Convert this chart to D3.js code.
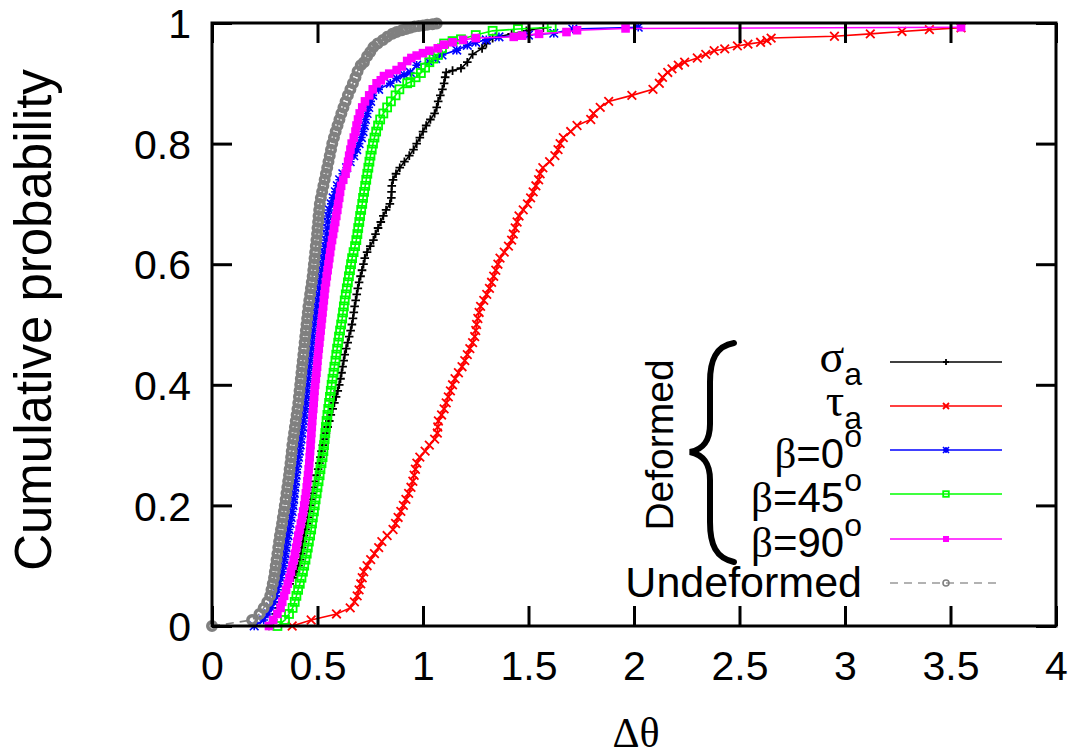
<!DOCTYPE html>
<html><head><meta charset="utf-8">
<script src="https://cdn.jsdelivr.net/npm/d3@7/dist/d3.min.js"></script>
<style>
html,body{margin:0;padding:0;background:#fff;}
svg{display:block;}
</style></head>
<body>
<svg id="chart" width="1077" height="753"></svg>
<script>
// ---------------- data ----------------
const xTicks = [0, 0.5, 1, 1.5, 2, 2.5, 3, 3.5, 4];
const yTicks = [0, 0.2, 0.4, 0.6, 0.8, 1];

// cumulative-probability levels at which the curves were read
const levels = [0.00,0.01,0.02,0.03,0.04,0.05,0.06,0.07,0.08,0.09,
0.10,0.11,0.12,0.13,0.14,0.15,0.16,0.17,0.18,0.19,
0.20,0.21,0.22,0.23,0.24,0.25,0.26,0.27,0.28,0.29,
0.30,0.31,0.32,0.33,0.34,0.35,0.36,0.37,0.38,0.39,
0.40,0.41,0.42,0.43,0.44,0.45,0.46,0.47,0.48,0.49,
0.50,0.51,0.52,0.53,0.54,0.55,0.56,0.57,0.58,0.59,
0.60,0.61,0.62,0.63,0.64,0.65,0.66,0.67,0.68,0.69,
0.70,0.71,0.72,0.73,0.74,0.75,0.76,0.77,0.78,0.79,
0.80,0.81,0.82,0.83,0.84,0.85,0.86,0.87,0.88,0.89,0.90];

// sigma_a (black)
const sigmaBody = [0.27,0.29,0.305,0.315,0.325,0.335,0.35,0.368,0.385,0.398,
0.41,0.418,0.423,0.427,0.431,0.436,0.443,0.450,0.455,0.460,
0.465,0.470,0.476,0.482,0.488,0.495,0.503,0.509,0.514,0.519,
0.525,0.532,0.540,0.548,0.556,0.563,0.572,0.580,0.588,0.596,
0.603,0.609,0.614,0.619,0.624,0.629,0.636,0.643,0.650,0.657,
0.663,0.668,0.672,0.676,0.681,0.686,0.691,0.697,0.704,0.711,
0.718,0.724,0.735,0.750,0.765,0.775,0.787,0.800,0.812,0.825,
0.843,0.850,0.851,0.852,0.858,0.872,0.890,0.912,0.935,0.955,
0.970,0.985,1.000,1.015,1.035,1.055,1.065,1.072,1.082,1.092,1.100];
const sigmaTail = [[1.105,0.91],[1.11,0.918],[1.14,0.921],[1.18,0.925],[1.21,0.935],[1.235,0.948],
[1.28,0.958],[1.30,0.966],[1.33,0.975],[1.42,0.982],[1.49,0.987],[1.57,0.992]];

// tau_a (red)
const tauBody = [0.38,0.47,0.59,0.655,0.675,0.688,0.697,0.705,0.712,0.719,
0.735,0.752,0.77,0.79,0.805,0.83,0.858,0.870,0.882,0.895,
0.907,0.919,0.932,0.943,0.952,0.958,0.964,0.971,0.985,1.010,
1.030,1.055,1.068,1.070,1.073,1.088,1.100,1.110,1.120,1.130,
1.140,1.152,1.168,1.185,1.198,1.210,1.222,1.235,1.245,1.250,
1.254,1.260,1.266,1.273,1.288,1.302,1.315,1.325,1.335,1.345,
1.355,1.365,1.385,1.405,1.420,1.428,1.437,1.446,1.455,1.475,
1.495,1.510,1.522,1.535,1.548,1.555,1.568,1.600,1.625,1.640,
1.650,1.665,1.700,1.730,1.795,1.808,1.840,1.880,1.990,2.090,2.120];
const tauTail = [[2.135,0.91],[2.16,0.918],[2.18,0.924],[2.21,0.93],[2.24,0.935],[2.30,0.942],
[2.34,0.948],[2.38,0.954],[2.43,0.957],[2.49,0.962],[2.54,0.965],[2.60,0.968],[2.63,0.971],
[2.65,0.975],[2.95,0.978],[3.12,0.982],[3.27,0.986],[3.40,0.989],[3.55,0.992]];

// beta = 0 deg (blue)
const beta0Body = [0.20,0.245,0.265,0.28,0.292,0.302,0.31,0.318,0.326,0.334,
0.339,0.343,0.347,0.351,0.355,0.360,0.365,0.370,0.375,0.380,
0.384,0.387,0.390,0.393,0.396,0.399,0.402,0.406,0.410,0.414,
0.418,0.422,0.426,0.430,0.434,0.438,0.442,0.445,0.448,0.451,
0.454,0.457,0.460,0.463,0.466,0.469,0.472,0.475,0.478,0.481,
0.485,0.489,0.493,0.497,0.501,0.505,0.508,0.511,0.515,0.519,
0.523,0.527,0.532,0.537,0.542,0.545,0.547,0.549,0.551,0.556,
0.565,0.574,0.585,0.594,0.605,0.62,0.638,0.655,0.672,0.686,
0.697,0.708,0.716,0.722,0.727,0.735,0.743,0.752,0.762,0.790,0.845];
const beta0Tail = [[0.875,0.908],[0.91,0.914],[0.94,0.918],[0.97,0.93],[1.03,0.935],[1.06,0.941],
[1.09,0.947],[1.16,0.955],[1.21,0.963],[1.25,0.968],[1.30,0.972],[1.36,0.977],[1.50,0.98],
[1.62,0.983],[1.71,0.99],[2.02,0.993]];

// beta = 45 deg (green)
const beta45Body = [0.31,0.346,0.365,0.382,0.392,0.40,0.408,0.416,0.424,0.431,
0.437,0.443,0.449,0.454,0.459,0.465,0.470,0.474,0.478,0.483,
0.487,0.491,0.496,0.500,0.505,0.510,0.514,0.519,0.524,0.528,
0.531,0.534,0.537,0.540,0.543,0.547,0.551,0.555,0.559,0.563,
0.567,0.571,0.576,0.580,0.585,0.589,0.593,0.598,0.602,0.607,
0.612,0.617,0.621,0.625,0.629,0.634,0.639,0.644,0.649,0.654,
0.659,0.664,0.671,0.678,0.684,0.689,0.693,0.698,0.702,0.707,
0.712,0.716,0.721,0.726,0.731,0.736,0.741,0.746,0.751,0.757,
0.763,0.770,0.778,0.787,0.797,0.812,0.830,0.848,0.870,0.888,0.925];
const beta45Tail = [[0.94,0.902],[0.965,0.91],[0.99,0.917],[1.01,0.926],[1.03,0.935],[1.05,0.941],
[1.07,0.947],[1.09,0.958],[1.10,0.966],[1.14,0.97],[1.18,0.973],[1.25,0.98],[1.33,0.987],
[1.45,0.99],[1.61,0.993]];

// beta = 90 deg (magenta)
const beta90Body = [0.27,0.29,0.31,0.325,0.333,0.342,0.351,0.359,0.367,0.374,
0.381,0.387,0.393,0.399,0.404,0.409,0.415,0.421,0.427,0.432,
0.437,0.441,0.445,0.449,0.452,0.455,0.458,0.461,0.463,0.465,
0.467,0.469,0.471,0.473,0.475,0.477,0.480,0.482,0.484,0.486,
0.489,0.492,0.495,0.498,0.500,0.503,0.506,0.509,0.512,0.515,
0.518,0.521,0.524,0.527,0.530,0.533,0.536,0.540,0.544,0.548,
0.552,0.556,0.560,0.564,0.569,0.574,0.579,0.584,0.589,0.594,
0.598,0.603,0.607,0.612,0.622,0.633,0.640,0.645,0.650,0.656,
0.662,0.672,0.680,0.685,0.692,0.700,0.712,0.725,0.745,0.762,0.780];
const beta90Tail = [[0.80,0.905],[0.815,0.912],[0.84,0.916],[0.875,0.922],[0.90,0.928],[0.925,0.937],
[0.945,0.942],[0.97,0.946],[1.0,0.95],[1.03,0.954],[1.07,0.958],[1.10,0.964],[1.14,0.968],
[1.19,0.972],[1.25,0.975],[1.43,0.977],[1.47,0.979],[1.55,0.982],[1.68,0.985],[1.73,0.988],
[1.96,0.991],[3.55,0.993]];

// undeformed (gray)
const undefBody = [0.0,0.19,0.225,0.245,0.262,0.276,0.282,0.288,0.294,0.298,
0.302,0.306,0.310,0.314,0.318,0.322,0.327,0.332,0.336,0.341,
0.345,0.349,0.353,0.357,0.361,0.365,0.368,0.372,0.375,0.378,
0.381,0.385,0.389,0.393,0.397,0.401,0.405,0.409,0.412,0.415,
0.418,0.421,0.424,0.427,0.430,0.433,0.436,0.439,0.442,0.445,
0.448,0.451,0.454,0.457,0.461,0.465,0.469,0.473,0.477,0.480,
0.483,0.486,0.489,0.492,0.495,0.498,0.500,0.503,0.505,0.508,
0.511,0.516,0.522,0.528,0.534,0.540,0.546,0.552,0.558,0.564,
0.570,0.578,0.586,0.595,0.604,0.613,0.623,0.633,0.644,0.656,0.668];
const undefTail = [[0.68,0.91],[0.69,0.92],[0.705,0.93],[0.72,0.935],[0.735,0.945],[0.75,0.952],
[0.765,0.96],[0.785,0.966],[0.81,0.972],[0.83,0.977],[0.855,0.982],[0.875,0.985],[0.9,0.988],
[0.92,0.99],[0.94,0.992],[0.96,0.994],[0.98,0.995],[1.0,0.996],[1.02,0.997],[1.045,0.998],[1.065,0.999]];

// ---------------- drawing ----------------
const svg = d3.select("#chart");
const m = {left: 212, right: 1056, top: 23, bottom: 626};
const x = d3.scaleLinear().domain([0, 4]).range([m.left, m.right]);
const y = d3.scaleLinear().domain([0, 1]).range([m.bottom, m.top]);

const SANS = "'Liberation Sans', Arial, Helvetica, sans-serif";
const SERIF = "'Liberation Serif', 'Times New Roman', serif";

function pts(body, tail) { return levels.map((p, i) => [body[i], p]).concat(tail); }

const series = [
  {key: "sigma", color: "#000000", sym: "plus",   data: pts(sigmaBody, sigmaTail)},
  {key: "tau",   color: "#ff0000", sym: "cross",  data: pts(tauBody, tauTail)},
  {key: "b0",    color: "#0000ff", sym: "star",   data: pts(beta0Body, beta0Tail)},
  {key: "b45",   color: "#00ff00", sym: "osq",    data: pts(beta45Body, beta45Tail)},
  {key: "b90",   color: "#ff00ff", sym: "fsq",    data: pts(beta90Body, beta90Tail)},
  {key: "undef", color: "#808080", sym: "ocirc",  data: pts(undefBody, undefTail), dash: "8,6"}
];

function drawSymbol(g, sym, color, k) {
  const s = 4.3 * k;
  if (sym === "plus") {
    g.append("path").attr("d", `M${-s},0H${s}M0,${-s}V${s}`).attr("stroke", color).attr("stroke-width", 1.8).attr("fill", "none");
  } else if (sym === "cross") {
    g.append("path").attr("d", `M${-s},${-s}L${s},${s}M${-s},${s}L${s},${-s}`).attr("stroke", color).attr("stroke-width", 1.8).attr("fill", "none");
  } else if (sym === "star") {
    g.append("path").attr("d", `M${-s},0H${s}M0,${-s}V${s}M${-s},${-s}L${s},${s}M${-s},${s}L${s},${-s}`).attr("stroke", color).attr("stroke-width", 1.6).attr("fill", "none");
  } else if (sym === "osq") {
    const h = 4 * k;
    g.append("rect").attr("x", -h).attr("y", -h).attr("width", 2 * h).attr("height", 2 * h).attr("stroke", color).attr("stroke-width", 1.8).attr("fill", "none");
  } else if (sym === "fsq") {
    const h = 4.3 * k;
    g.append("rect").attr("x", -h).attr("y", -h).attr("width", 2 * h).attr("height", 2 * h).attr("fill", color);
  } else if (sym === "ocirc") {
    g.append("circle").attr("r", (k < 1 ? 3 : 4.2)).attr("stroke", color).attr("stroke-width", k < 1 ? 1.6 : 3.6).attr("fill", "none");
  }
}

const line = d3.line().x(d => x(d[0])).y(d => y(d[1]));
const plot = svg.append("g");
series.forEach(s => {
  plot.append("path").datum(s.data).attr("d", line)
    .attr("fill", "none").attr("stroke", s.color).attr("stroke-width", 1.6)
    .attr("stroke-dasharray", s.dash || null);
  plot.append("g").selectAll("g").data(s.data).join("g")
    .attr("transform", d => `translate(${x(d[0])},${y(d[1])})`)
    .each(function() { drawSymbol(d3.select(this), s.sym, s.color, 1); });
});

// axes (gnuplot style: inward ticks mirrored on all four sides)
const TL = 20;
const fmt = d => String(d);
const axB = svg.append("g").attr("transform", `translate(0,${m.bottom})`)
  .call(d3.axisBottom(x).tickValues(xTicks).tickSizeInner(-TL).tickSizeOuter(0).tickFormat(fmt));
const axT = svg.append("g").attr("transform", `translate(0,${m.top})`)
  .call(d3.axisTop(x).tickValues(xTicks).tickSizeInner(-TL).tickSizeOuter(0).tickFormat(""));
const axL = svg.append("g").attr("transform", `translate(${m.left},0)`)
  .call(d3.axisLeft(y).tickValues(yTicks).tickSizeInner(-TL).tickSizeOuter(0).tickFormat(fmt));
const axR = svg.append("g").attr("transform", `translate(${m.right},0)`)
  .call(d3.axisRight(y).tickValues(yTicks).tickSizeInner(-TL).tickSizeOuter(0).tickFormat(""));
[axB, axT, axL, axR].forEach(a => {
  a.select(".domain").remove();
  a.selectAll(".tick line").attr("stroke", "#000").attr("stroke-width", 3);
  a.selectAll(".tick text").attr("fill", "#000").style("font-family", SANS).style("font-size", "41px");
});
axB.selectAll(".tick text").attr("dy", "0").attr("y", 680 - m.bottom);
axL.selectAll(".tick text").attr("x", 191 - m.left).attr("dy", "0.36em");

svg.append("rect").attr("x", m.left).attr("y", m.top)
  .attr("width", m.right - m.left).attr("height", m.bottom - m.top)
  .attr("fill", "none").attr("stroke", "#000").attr("stroke-width", 3);

// axis titles
svg.append("text").attr("transform", "translate(51,320) rotate(-90)")
  .attr("text-anchor", "middle").style("font-family", SANS).style("font-size", "51px")
  .text("Cumulative probability");
svg.append("text").attr("x", 636).attr("y", 747).attr("text-anchor", "middle")
  .style("font-family", SERIF).style("font-size", "42px").text("Δθ");

// legend
const legend = [
  {s: 0, main: "σ", sub: "a"},
  {s: 1, main: "τ", sub: "a"},
  {s: 2, main: "β=0", sup: "o"},
  {s: 3, main: "β=45", sup: "o"},
  {s: 4, main: "β=90", sup: "o"},
  {s: 5, plain: "Undeformed"}
];
const legRowY = [362, 406, 450, 494, 539, 583];
const lg = svg.append("g");
legend.forEach((e, i) => {
  const ly = legRowY[i];
  const s = series[e.s];
  lg.append("line").attr("x1", 890).attr("x2", 1002).attr("y1", ly).attr("y2", ly)
    .attr("stroke", s.key === "undef" ? "#999" : s.color).attr("stroke-width", 1.5)
    .attr("stroke-dasharray", s.dash || null);
  drawSymbol(lg.append("g").attr("transform", `translate(946,${ly})`), s.sym, s.color, 0.7);
  const t = lg.append("text").attr("x", 862).attr("text-anchor", "end").attr("fill", "#000");
  if (e.plain) {
    t.attr("y", ly + 14).style("font-family", SANS).style("font-size", "43px").text(e.plain);
  } else if (e.sub) {
    t.attr("y", ly + 10);
    t.append("tspan").style("font-family", SERIF).style("font-size", "46px").text(e.main);
    t.append("tspan").attr("dy", 13).style("font-family", SANS).style("font-size", "32px").text(e.sub);
  } else {
    t.attr("y", ly + 18);
    t.append("tspan").style("font-family", SERIF).style("font-size", "43px").text(e.main[0]);
    t.append("tspan").style("font-family", SANS).style("font-size", "42px").text(e.main.slice(1));
    t.append("tspan").attr("dy", -21).style("font-family", SANS).style("font-size", "32px").text(e.sup);
  }
});
// "Deformed" label with brace
svg.append("text").attr("transform", "translate(673,445) rotate(-90)")
  .attr("text-anchor", "middle").style("font-family", SANS).style("font-size", "39px").text("Deformed");
svg.append("path")
  .attr("d", "M734,343 C716,346 710,360 710,382 L710,424 C710,440 704,449 690,452 C704,455 710,464 710,480 L710,522 C710,545 716,558 734,562")
  .attr("fill", "none").attr("stroke", "#000").attr("stroke-width", 6).attr("stroke-linecap", "round");
</script>
</body></html>
